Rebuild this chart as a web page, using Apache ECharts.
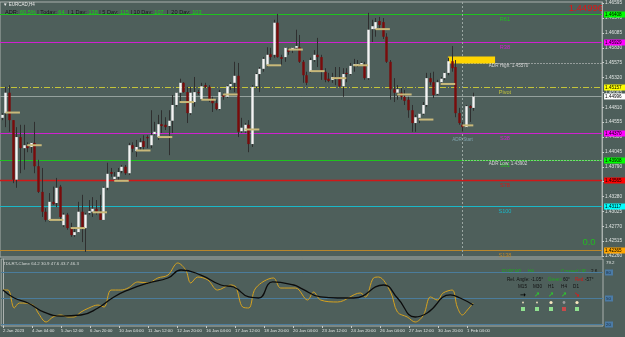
<!DOCTYPE html>
<html>
<head>
<meta charset="utf-8">
<script src="https://cdn.jsdelivr.net/npm/echarts@6/dist/echarts.min.js"></script>
<style>
html,body{margin:0;padding:0;background:#4e5f5b;}
#chart{width:625px;height:337px;}
</style>
</head>
<body>
<div id="chart"></div>
<script>
// EURCAD H4 with ADR / fib pivot levels and a TDI sub window
var timeLabels = ["2 Jan 2023","4 Jan 04:00","5 Jan 12:00","6 Jan 20:00","10 Jan 04:00","11 Jan 12:00","12 Jan 20:00","16 Jan 04:00","17 Jan 12:00","18 Jan 20:00","20 Jan 04:00","23 Jan 12:00","24 Jan 20:00","26 Jan 04:00","27 Jan 12:00","30 Jan 20:00","1 Feb 04:00"];
var priceTicks = [1.46595,1.46340,1.46085,1.45830,1.45575,1.45320,1.45065,1.44810,1.44555,1.44300,1.44045,1.43790,1.43535,1.43280,1.43025,1.42770,1.42515,1.42260];

// [open, high, low, close]
var candles = [
[1.4463,1.4471,1.4459,1.4468],[1.4471,1.4516,1.4447,1.4506],[1.4506,1.4519,1.4439,1.4459],[1.4459,1.4459,1.4351,1.4357],
[1.4357,1.4447,1.4343,1.4430],[1.4430,1.4451,1.4368,1.4411],[1.4411,1.4451,1.4374,1.4416],[1.4415,1.4421,1.4404,1.4411],
[1.4413,1.4421,1.4403,1.4420],[1.4420,1.4456,1.4368,1.4380],[1.4380,1.4391,1.4334,1.4336],[1.4336,1.4377,1.4293,1.4302],
[1.4302,1.4308,1.4285,1.4288],[1.4288,1.4334,1.4285,1.4319],[1.4319,1.4345,1.4314,1.4315],[1.4317,1.4360,1.4310,1.4343],
[1.4345,1.4348,1.4285,1.4293],[1.4279,1.4300,1.4276,1.4297],[1.4297,1.4300,1.4271,1.4274],[1.4274,1.4283,1.4259,1.4262],
[1.4262,1.4274,1.4259,1.4267],[1.4267,1.4319,1.4266,1.4302],[1.4302,1.4331,1.4250,1.4274],[1.4274,1.4300,1.4233,1.4297],
[1.4300,1.4322,1.4297,1.4303],[1.4302,1.4327,1.4293,1.4307],[1.4307,1.4322,1.4297,1.4302],[1.4302,1.4331,1.4288,1.4288],
[1.4288,1.4345,1.4288,1.4343],[1.4343,1.4386,1.4339,1.4367],[1.4370,1.4377,1.4362,1.4367],[1.4358,1.4370,1.4357,1.4362],
[1.4362,1.4377,1.4357,1.4370],[1.4372,1.4382,1.4368,1.4379],[1.4379,1.4382,1.4365,1.4368],[1.4368,1.4420,1.4365,1.4416],
[1.4416,1.4421,1.4404,1.4410],[1.4406,1.4425,1.4396,1.4413],[1.4413,1.4428,1.4408,1.4421],[1.4423,1.4433,1.4408,1.4413],
[1.4430,1.4433,1.4411,1.4428],[1.4416,1.4476,1.4411,1.4433],[1.4435,1.4456,1.4433,1.4439],[1.4430,1.4468,1.4425,1.4452],
[1.4452,1.4476,1.4437,1.4449],[1.4451,1.4464,1.4442,1.4447],[1.4449,1.4476,1.4399,1.4458],[1.4458,1.4502,1.4437,1.4485],
[1.4485,1.4507,1.4482,1.4506],[1.4506,1.4530,1.4488,1.4523],[1.4523,1.4524,1.4506,1.4507],[1.4507,1.4516,1.4454,1.4471],
[1.4471,1.4516,1.4468,1.4506],[1.4490,1.4533,1.4482,1.4507],[1.4507,1.4511,1.4502,1.4506],[1.4495,1.4523,1.4494,1.4517],
[1.4519,1.4523,1.4514,1.4516],[1.4516,1.4519,1.4490,1.4494],[1.4494,1.4499,1.4473,1.4488],[1.4488,1.4494,1.4476,1.4478],
[1.4478,1.4511,1.4476,1.4507],[1.4502,1.4506,1.4494,1.4499],[1.4499,1.4519,1.4497,1.4517],[1.4517,1.4524,1.4511,1.4521],
[1.4523,1.4559,1.4507,1.4535],[1.4535,1.4557,1.4430,1.4439],[1.4440,1.4463,1.4437,1.4446],[1.4440,1.4454,1.4437,1.4451],
[1.4451,1.4459,1.4404,1.4418],[1.4418,1.4519,1.4413,1.4516],[1.4517,1.4540,1.4514,1.4538],[1.4538,1.4550,1.4507,1.4547],
[1.4547,1.4567,1.4542,1.4564],[1.4554,1.4584,1.4550,1.4571],[1.4572,1.4583,1.4562,1.4567],[1.4571,1.4631,1.4566,1.4626],
[1.4626,1.4641,1.4566,1.4567],[1.4567,1.4571,1.4554,1.4564],[1.4567,1.4584,1.4559,1.4583],[1.4579,1.4583,1.4571,1.4576],
[1.4579,1.4584,1.4574,1.4583],[1.4583,1.4614,1.4579,1.4586],[1.4584,1.4605,1.4557,1.4559],[1.4559,1.4562,1.4523,1.4536],
[1.4536,1.4542,1.4519,1.4523],[1.4542,1.4566,1.4540,1.4562],[1.4562,1.4579,1.4559,1.4571],[1.4571,1.4600,1.4550,1.4567],
[1.4567,1.4571,1.4528,1.4542],[1.4542,1.4548,1.4524,1.4528],[1.4530,1.4540,1.4524,1.4526],[1.4528,1.4540,1.4523,1.4533],
[1.4533,1.4550,1.4519,1.4530],[1.4531,1.4550,1.4516,1.4517],[1.4517,1.4548,1.4499,1.4538],[1.4540,1.4548,1.4524,1.4538],
[1.4538,1.4557,1.4536,1.4552],[1.4552,1.4564,1.4542,1.4555],[1.4554,1.4562,1.4550,1.4555],[1.4554,1.4559,1.4552,1.4557],
[1.4554,1.4559,1.4528,1.4531],[1.4531,1.4643,1.4528,1.4614],[1.4615,1.4631,1.4593,1.4620],[1.4615,1.4634,1.4602,1.4627],
[1.4629,1.4636,1.4617,1.4622],[1.4627,1.4634,1.4598,1.4602],[1.4602,1.4608,1.4557,1.4559],[1.4559,1.4562,1.4494,1.4512],
[1.4512,1.4531,1.4490,1.4506],[1.4506,1.4519,1.4494,1.4512],[1.4506,1.4514,1.4494,1.4499],[1.4499,1.4511,1.4485,1.4492],
[1.4494,1.4499,1.4463,1.4476],[1.4476,1.4485,1.4439,1.4454],[1.4454,1.4468,1.4439,1.4464],[1.4463,1.4471,1.4454,1.4470],
[1.4470,1.4490,1.4468,1.4485],[1.4485,1.4540,1.4482,1.4531],[1.4531,1.4540,1.4519,1.4524],[1.4524,1.4542,1.4497,1.4502],
[1.4504,1.4528,1.4502,1.4524],[1.4524,1.4533,1.4519,1.4530],[1.4531,1.4542,1.4528,1.4540],[1.4540,1.4566,1.4536,1.4560],
[1.4560,1.4586,1.4542,1.4548],[1.4550,1.4562,1.4464,1.4471],[1.4471,1.4480,1.4451,1.4454],[1.4451,1.4456,1.4439,1.4447],
[1.4447,1.4485,1.4446,1.4483],[1.4483,1.4485,1.4456,1.4480],[1.4480,1.4506,1.4475,1.44996]
];

// one short line per trading day (6 bars)
var dayLevels = [1.4472,1.4416,1.4288,1.4274,1.4301,1.4355,1.4407,1.4430,1.4490,1.4494,1.4503,1.4443,1.4553,1.4580,1.4543,1.4531,1.4553,1.4615,1.4503,1.4460,1.4521,1.4450];

var levelNames  = ["R61","R38","Pivot","S38","S61","S78","S100","S138"];
var levelValues = [1.46408,1.45929,1.45157,1.44370,1.43908,1.43565,1.43117,1.42365];
var currentPrice = 1.44996;
var adrHigh = 1.45570, adrLow = 1.43902, adrBoxTop = 1.45680;
var adrStartBar = 127, adrBoxEndBar = 136;
var adrStats = {adr:"60.5%", today:64, d1:138, d5:115, d10:107, d20:103};

// TDI sub window
var fastX = [0,1.4,3.1,4.5,8.3,9.7,11.9,13.8,16,17.9,19.6,21.5,23.7,26.2,27.9,29.8,32.5,34.5,37.2,40,42.7,45.5,48.2,50.4,51.8,53.7,56.5,59.2,62.8,64.2,66.1,67.8,69.7,74.6,76.6,80.7,84,85.7,87.6,92.3,98.6,100,102.2,103.6,106.9,108.8,111.5,113.7,116,117.9,119.8,121.4,123.9,125.3,126.7,128.1,129.7];
var fastY = [59.2,59.2,38.5,44.2,41.9,32.7,22.3,28.1,30.4,28.1,28.1,33.8,38.5,41.9,39.6,59.2,59.2,61.5,68.5,67.3,73.1,76.5,90.4,82.3,67.3,74.2,70.8,59.2,65,62.7,39.6,38.5,61.5,73.1,61.5,61.5,47.7,56.9,47.7,45.4,55.8,51.2,73.1,74.2,56.9,33.8,28.1,22.3,30.4,51.2,47.7,55.8,59.2,39.6,30.4,36.2,44.2];
var slowX = [0,3.1,6.9,11.3,16,21.5,26.2,30.6,34.5,40,45.5,49.1,54.6,60.1,63.6,67.8,70.5,74.4,80.2,82.1,87.6,92.3,96.7,105,108.8,113.7,117,123.4,126.1,129.7];
var slowY = [59.2,50,44.2,33.8,29.2,30.4,38.5,51.2,59.2,67.3,73.1,82.3,76.5,65,62.7,51.2,50,68.5,65,61.5,51.2,50,50,65,50,28.1,32.7,53.5,50,41.9];
var tdiLevels = [80,50,20];
var tdiTitle = "TDI-RT-Clone 64.2 30.9 47.6 43.7 46.3";

var nBars = 166;
var cats = [];
for (var i = 0; i < nBars; i++) cats.push(String(i));

var FONT = "Liberation Sans, Arial, sans-serif";
var levelStyles = [
    {c:"#1ec21e", tag:"#00ff00", w:1, dash:null},
    {c:"#d020d0", tag:"#ff00ff", w:1, dash:null},
    {c:"#c4c43a", tag:"#ffff00", w:1, dash:[6,2,1,2]},
    {c:"#d020d0", tag:"#ff00ff", w:1, dash:null},
    {c:"#1ec21e", tag:"#00ff00", w:1, dash:null},
    {c:"#d01818", tag:"#ff0000", w:1.5, dash:null},
    {c:"#1ab8c8", tag:"#00ffff", w:1, dash:null},
    {c:"#b8862c", tag:"#ffa500", w:1, dash:null},
    {c:"#95a19d", tag:"#ffffff", w:1, dash:null}
];
var allLevels = levelValues.concat([currentPrice]);
var allNames = levelNames.concat([""]);

function priceTag(x, y, text, bg, fg) {
    return [
        {type:"rect", shape:{x:x, y:y - 3, width:21, height:6}, style:{fill:bg}},
        {type:"text", x:x + 1, y:y + 0.3, style:{text:text, fill:fg || "#000", font:"4.6px " + FONT, verticalAlign:"middle"}}
    ];
}

function renderLevel(params, api) {
    var k = api.value(0), v = api.value(1);
    var s = levelStyles[k];
    var cs = params.coordSys;
    var y = Math.round(api.coord([0, v])[1]) + 0.5;
    var nx = api.coord([139, v])[0];
    var kids = [{type:"line", shape:{x1:cs.x, y1:y, x2:cs.x + cs.width, y2:y},
        style:{stroke:s.c, lineWidth:s.w, lineDash:s.dash}}];
    kids = kids.concat(priceTag(cs.x + cs.width + 2, y, v.toFixed(5), s.tag));
    if (allNames[k]) {
        kids.push({type:"text", x:nx - 1, y:y + 4.5, style:{text:allNames[k], fill:s.c, font:"5.6px " + FONT, align:"center", verticalAlign:"middle"}});
    }
    return {type:"group", children:kids};
}

function renderAdr(params, api) {
    var cs = params.coordSys;
    var x0 = Math.round(api.coord([api.value(0), adrHigh])[0]) + 0.5;
    var xa = api.coord([123, adrHigh])[0];
    var xb = api.coord([api.value(1), adrHigh])[0];
    var yh = Math.round(api.coord([0, api.value(2)])[1]) + 0.5;
    var yl = Math.round(api.coord([0, api.value(3)])[1]) + 0.5;
    var yt = api.coord([0, api.value(4)])[1];
    var xl = api.coord([134, adrHigh])[0];
    var right = cs.x + cs.width;
    var dot = {stroke:"#dcdcdc", lineWidth:1, lineDash:[1,2]};
    return {type:"group", children:[
        {type:"line", shape:{x1:x0, y1:cs.y, x2:x0, y2:cs.y + cs.height}, style:{stroke:"#9aa6a2", lineWidth:1, lineDash:[2,2]}},
        {type:"line", shape:{x1:x0, y1:yh, x2:right, y2:yh}, style:dot},
        {type:"line", shape:{x1:x0, y1:yl, x2:right, y2:yl}, style:dot},
        {type:"rect", shape:{x:xa, y:yt, width:xb - xa, height:yh - yt}, style:{fill:"#ffd500"}},
        {type:"text", x:xl + 1, y:yh + 2.5, style:{text:"ADR High: " + api.value(2).toFixed(5), fill:"#d6d6d6", font:"4.6px " + FONT, verticalAlign:"middle"}},
        {type:"text", x:xl + 1, y:yl + 3, style:{text:"ADR Low: " + api.value(3).toFixed(5), fill:"#d6d6d6", font:"4.6px " + FONT, verticalAlign:"middle"}},
        {type:"text", x:x0, y:140, style:{text:"ADR Start", fill:"#7fa3ad", font:"4.6px " + FONT, align:"center", verticalAlign:"middle"}}
    ]};
}

function renderTdiLevel(params, api) {
    var cs = params.coordSys;
    var y = Math.round(api.coord([0, api.value(0)])[1]) + 0.5;
    return {type:"group", children:[
        {type:"line", shape:{x1:cs.x, y1:y, x2:cs.x + cs.width, y2:y}, style:{stroke:"#4b7c9c", lineWidth:1}},
        {type:"rect", shape:{x:cs.x + cs.width + 2, y:y - 3, width:8, height:6}, style:{fill:"#4b7ba6"}},
        {type:"text", x:cs.x + cs.width + 3, y:y + 0.3, style:{text:String(api.value(0)), fill:"#1c2c3c", font:"4.4px " + FONT, verticalAlign:"middle"}}
    ]};
}

function renderCandle(params, api) {
    var i = api.value(0);
    var o = api.value(1), h = api.value(2), l = api.value(3), c = api.value(4);
    var pO = api.coord([i, o]), pC = api.coord([i, c]);
    var pH = api.coord([i, h]), pL = api.coord([i, l]);
    var x = Math.round(pO[0]) + 0.5;
    var w = 2.4;
    var top = Math.min(pO[1], pC[1]);
    var ht = Math.max(Math.abs(pO[1] - pC[1]), 1);
    return {type:"group", children:[
        {type:"line", shape:{x1:x, y1:pH[1], x2:x, y2:pL[1]}, style:{stroke:"#2f2f2f", lineWidth:1}},
        {type:"rect", shape:{x:x - w/2, y:top, width:w, height:ht},
            style:{fill: c >= o ? "#f4f4f4" : "#7a0b0b"}}
    ]};
}

function renderDay(params, api) {
    var a = api.coord([api.value(0), api.value(2)]);
    var b = api.coord([api.value(1), api.value(2)]);
    return {type:"line", shape:{x1:a[0], y1:a[1], x2:b[0], y2:b[1]}, style:{stroke:"#c9b97a", lineWidth:2}};
}

var chart = echarts.init(document.getElementById("chart"));
var option = {
    backgroundColor:"#4e5f5b",
    animation:false,
    grid:[
        {left:0, right:22, top:2, height:255, show:true, borderColor:"#aab1ae", borderWidth:1},
        {left:0, right:22, top:259, height:67, show:true, borderColor:"#aab1ae", borderWidth:1}
    ],
    xAxis:[
        {type:"category", gridIndex:0, data:cats, axisLabel:{show:false}, axisLine:{show:false}, axisTick:{show:false}},
        {type:"value", gridIndex:1, min:-0.5, max:nBars-0.5, splitLine:{show:false}, axisLine:{show:false},
            axisTick:{show:true, customValues:timeLabels.map(function(t,k){return k*8;}), length:2, lineStyle:{color:"#c8ccca"}},
            axisLabel:{customValues:timeLabels.map(function(t,k){return k*8;}), formatter:function(v){return timeLabels[Math.round(v/8)];},
                align:"left", color:"#dfe3e1", fontSize:4.3, fontFamily:FONT, margin:3}}
    ],
    yAxis:[
        {type:"value", gridIndex:0, position:"right", min:1.42244, max:1.46615, splitLine:{show:false},
            axisLine:{show:true, lineStyle:{color:"#aab1ae"}},
            axisTick:{show:true, customValues:priceTicks, length:2, lineStyle:{color:"#c8ccca"}},
            axisLabel:{customValues:priceTicks, formatter:function(v){return v.toFixed(5);}, color:"#dfe3e1", fontSize:4.7, fontFamily:FONT, margin:3}},
        {type:"value", gridIndex:1, position:"right", min:17.7, max:95, splitLine:{show:false},
            axisLine:{show:true, lineStyle:{color:"#aab1ae"}}, axisTick:{show:false}, axisLabel:{show:false}}
    ],
    series:[
        {type:"custom", xAxisIndex:0, yAxisIndex:0, z:1, silent:true, renderItem:renderLevel,
            data:allLevels.map(function(v,k){return [k, v];}), encode:{y:1}},
        {type:"custom", xAxisIndex:0, yAxisIndex:0, z:2, silent:true, renderItem:renderAdr,
            data:[[adrStartBar, adrBoxEndBar, adrHigh, adrLow, adrBoxTop]], encode:{x:0, y:2}},
        {type:"custom", xAxisIndex:0, yAxisIndex:0, z:3, renderItem:renderCandle,
            data:candles.map(function(d,i){return [i, d[0], d[1], d[2], d[3]];}),
            encode:{x:0, y:[1,2,3,4]}},
        {type:"custom", xAxisIndex:0, yAxisIndex:0, z:4, renderItem:renderDay,
            data:dayLevels.map(function(v,k){return [6*k+1, Math.min(6*k+5, candles.length-1), v];}),
            encode:{x:[0,1], y:2}},
        {type:"custom", xAxisIndex:1, yAxisIndex:1, z:1, silent:true, renderItem:renderTdiLevel,
            data:tdiLevels.map(function(v){return [v];}), encode:{y:0}},
        {type:"line", xAxisIndex:1, yAxisIndex:1, symbol:"none", smooth:0.35, z:3,
            data:fastX.map(function(x,i){return [x, fastY[i]];}), lineStyle:{color:"#d6a21e", width:1}},
        {type:"line", xAxisIndex:1, yAxisIndex:1, symbol:"none", smooth:0.5, z:4,
            data:slowX.map(function(x,i){return [x, slowY[i]];}), lineStyle:{color:"#0c0c0c", width:1.3}}
    ],
    graphic:[
        {type:"text", x:3, y:5, style:{text:"\u25BC EURCAD,H4", fill:"#e8e8e8", font:"4.5px " + FONT, verticalAlign:"middle"}},
        {type:"text", x:5, y:12.5, style:{
            text:"{d|ADR:} {g|" + adrStats.adr + "} {d|| Today:} {g|" + adrStats.today + "}  {d|| 1 Day:} {g|" + adrStats.d1 +
                 "} {d|| 5 Day:} {g|" + adrStats.d5 + "} {d|| 10 Day:} {g|" + adrStats.d10 + "}  {d||  20 Day:} {g|" + adrStats.d20 + "}",
            font:"5.6px " + FONT, verticalAlign:"middle",
            rich:{d:{fill:"#141414", color:"#141414", font:"5.6px " + FONT}, g:{fill:"#18d018", color:"#18d018", font:"5.6px " + FONT}}}},
        {type:"text", x:603, y:8, style:{text:currentPrice.toFixed(5), fill:"#e01414", font:"9.5px " + FONT, align:"right", verticalAlign:"middle"}},
        {type:"text", x:589, y:242, style:{text:"0.0", fill:"#22bb22", font:"9.5px " + FONT, align:"center", verticalAlign:"middle"}},
        {type:"text", x:606, y:263, style:{text:"79.2", fill:"#dfe3e1", font:"4.4px " + FONT, verticalAlign:"middle"}},
        {type:"text", x:3, y:264, style:{text:tdiTitle, fill:"#d4d8d6", font:"4.4px " + FONT, verticalAlign:"middle"}},
        {type:"text", x:502, y:272, style:{text:"EURCAD", fill:"#1fa81f", font:"4.6px " + FONT, verticalAlign:"middle"}},
        {type:"text", x:528, y:272, style:{text:"H4", fill:"#1fa81f", font:"4.6px " + FONT, verticalAlign:"middle"}},
        {type:"text", x:561, y:271.5, style:{text:"Crossed UP", fill:"#1fa81f", font:"4.6px " + FONT, verticalAlign:"middle"}},
        {type:"text", x:591, y:272, style:{text:"2.6", fill:"#111", font:"4.6px " + FONT, verticalAlign:"middle"}},
        {type:"text", x:507, y:280, style:{text:"Rel. Angle: -1.05\u00B0", fill:"#111", font:"4.6px " + FONT, verticalAlign:"middle"}},
        {type:"text", x:548, y:280, style:{text:"Green:", fill:"#1fa81f", font:"4.6px " + FONT, verticalAlign:"middle"}},
        {type:"text", x:563, y:280, style:{text:"60\u00B0", fill:"#111", font:"4.6px " + FONT, verticalAlign:"middle"}},
        {type:"text", x:575, y:280, style:{text:"Red:", fill:"#d01818", font:"4.6px " + FONT, verticalAlign:"middle"}},
        {type:"text", x:585, y:280, style:{text:"-57\u00B0", fill:"#111", font:"4.6px " + FONT, verticalAlign:"middle"}},
        {type:"text", x:522.5, y:287, style:{text:"M15", fill:"#111", font:"4.6px " + FONT, align:"center", verticalAlign:"middle"}},
        {type:"text", x:537.5, y:287, style:{text:"M30", fill:"#111", font:"4.6px " + FONT, align:"center", verticalAlign:"middle"}},
        {type:"text", x:551, y:287, style:{text:"H1", fill:"#111", font:"4.6px " + FONT, align:"center", verticalAlign:"middle"}},
        {type:"text", x:564, y:287, style:{text:"H4", fill:"#111", font:"4.6px " + FONT, align:"center", verticalAlign:"middle"}},
        {type:"text", x:576, y:287, style:{text:"D1", fill:"#111", font:"4.6px " + FONT, align:"center", verticalAlign:"middle"}},
        {type:"text", x:523, y:295, style:{text:"\u2192", fill:"#000", font:"bold 7px DejaVu Sans", align:"center", verticalAlign:"middle"}},
        {type:"text", x:537, y:295, style:{text:"\u2197", fill:"#2ec82e", font:"bold 7px DejaVu Sans", align:"center", verticalAlign:"middle"}},
        {type:"text", x:551, y:295, style:{text:"\u2197", fill:"#2ec82e", font:"bold 7px DejaVu Sans", align:"center", verticalAlign:"middle"}},
        {type:"text", x:564, y:295, style:{text:"\u2197", fill:"#2ec82e", font:"bold 7px DejaVu Sans", align:"center", verticalAlign:"middle"}},
        {type:"text", x:577, y:295, style:{text:"\u2198", fill:"#e01818", font:"bold 7px DejaVu Sans", align:"center", verticalAlign:"middle"}},
        {type:"circle", shape:{cx:523, cy:302.5, r:0.9}, style:{fill:"#f0e0c0"}},
        {type:"circle", shape:{cx:537, cy:302.5, r:0.9}, style:{fill:"#f0e0c0"}},
        {type:"circle", shape:{cx:551, cy:302.5, r:1.6}, style:{fill:"#fbe8c0"}},
        {type:"circle", shape:{cx:564, cy:302.5, r:1.4}, style:{fill:"#9a9a9a"}},
        {type:"circle", shape:{cx:577, cy:302.5, r:1.6}, style:{fill:"#fbe8c0"}},
        {type:"rect", shape:{x:521, y:307, width:4, height:4}, style:{fill:"#8fe08f"}},
        {type:"rect", shape:{x:535, y:307, width:4, height:4}, style:{fill:"#8fe08f"}},
        {type:"rect", shape:{x:549, y:307, width:4, height:4}, style:{fill:"#8fe08f"}},
        {type:"rect", shape:{x:562, y:307, width:4, height:4}, style:{fill:"#c84a4a"}},
        {type:"rect", shape:{x:575, y:307, width:4, height:4}, style:{fill:"#8fe08f"}}
    ]
};
chart.setOption(option);
</script>
</body>
</html>
